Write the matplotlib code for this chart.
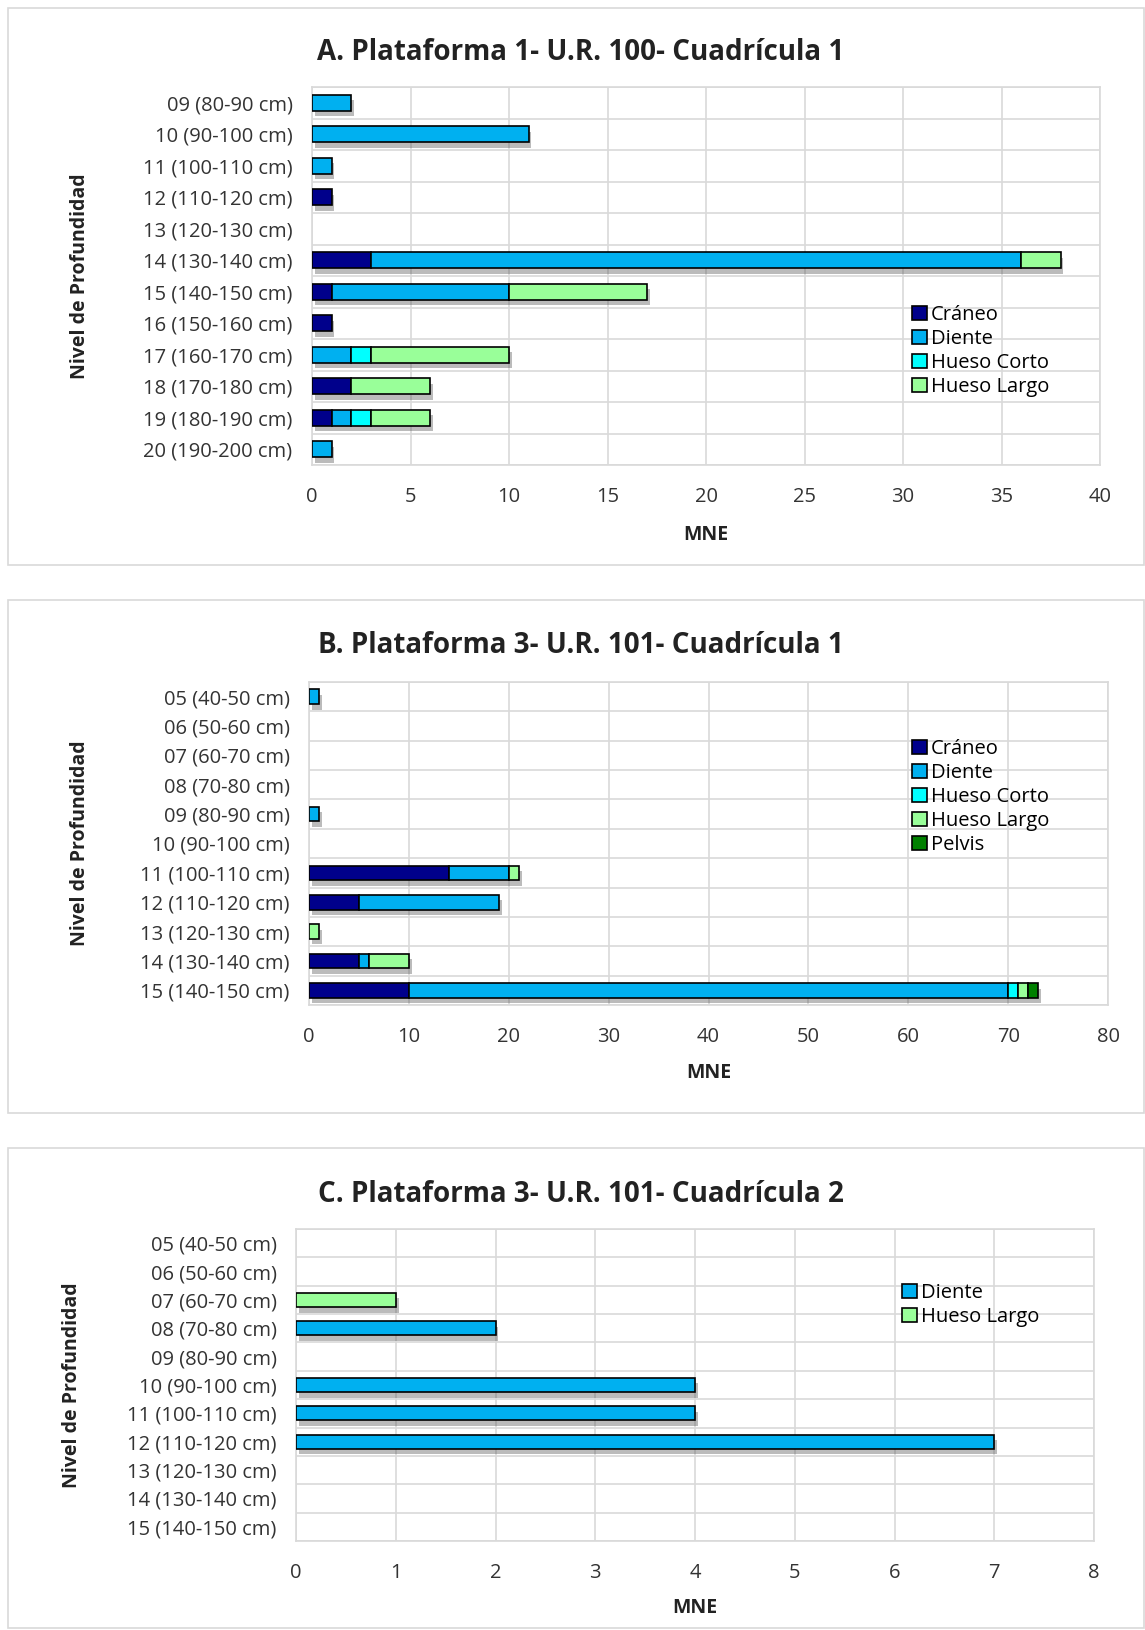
import matplotlib
matplotlib.use('Agg')
import matplotlib.pyplot as plt
import matplotlib.patheffects as pe
from matplotlib.patches import Rectangle, Patch
import numpy as np

plt.rcParams['font.family'] = ['Open Sans', 'DejaVu Sans']

# colores de cada tipo de hueso
colores = {'Cráneo': '#00008B', 'Diente': '#00B0F0', 'Hueso Corto': '#00FFFF',
           'Hueso Largo': '#99FF99', 'Pelvis': '#008000'}

# Panel A
niveles_a = ['09 (80-90 cm)', '10 (90-100 cm)', '11 (100-110 cm)', '12 (110-120 cm)',
             '13 (120-130 cm)', '14 (130-140 cm)', '15 (140-150 cm)', '16 (150-160 cm)',
             '17 (160-170 cm)', '18 (170-180 cm)', '19 (180-190 cm)', '20 (190-200 cm)']
craneo_a = [0, 0, 0, 1, 0, 3, 1, 1, 0, 2, 1, 0]
diente_a = [2, 11, 1, 0, 0, 33, 9, 0, 2, 0, 1, 1]
corto_a = [0, 0, 0, 0, 0, 0, 0, 0, 1, 0, 1, 0]
largo_a = [0, 0, 0, 0, 0, 2, 7, 0, 7, 4, 3, 0]

# Panel B
niveles_b = ['05 (40-50 cm)', '06 (50-60 cm)', '07 (60-70 cm)', '08 (70-80 cm)',
             '09 (80-90 cm)', '10 (90-100 cm)', '11 (100-110 cm)', '12 (110-120 cm)',
             '13 (120-130 cm)', '14 (130-140 cm)', '15 (140-150 cm)']
craneo_b = [0, 0, 0, 0, 0, 0, 14, 5, 0, 5, 10]
diente_b = [1, 0, 0, 0, 1, 0, 6, 14, 0, 1, 60]
corto_b = [0, 0, 0, 0, 0, 0, 0, 0, 0, 0, 1]
largo_b = [0, 0, 0, 0, 0, 0, 1, 0, 1, 4, 1]
pelvis_b = [0, 0, 0, 0, 0, 0, 0, 0, 0, 0, 1]

# Panel C
niveles_c = niveles_b
diente_c = [0, 0, 0, 2, 0, 4, 4, 7, 0, 0, 0]
largo_c = [0, 0, 1, 0, 0, 0, 0, 0, 0, 0, 0]

W, H = 1145, 1630
fig = plt.figure(figsize=(W / 100, H / 100), dpi=100)


def fx(x):
    return x / W


def fy(y):
    return 1 - y / H


def caja(y0, y1):
    fig.patches.append(Rectangle((fx(8), fy(y1)), fx(1136), (y1 - y0) / H,
                                 transform=fig.transFigure, fill=False,
                                 edgecolor='#D9D9D9', lw=1.2))


def panel(box, niveles, series, xmax, titulo, titulo_y, leyenda_xy, ylab_x, mne_y):
    x0, y0, x1, y1 = box
    ax = fig.add_axes([fx(x0), fy(y1), (x1 - x0) / W, (y1 - y0) / H])
    pos = np.arange(len(niveles))
    izq = np.zeros(len(niveles))
    sombra = [pe.SimplePatchShadow(offset=(2, -4), shadow_rgbFace='#555555', alpha=0.4),
              pe.Normal()]
    for nombre, valores in series:
        valores = np.array(valores, dtype=float)
        m = valores > 0
        ax.barh(pos[m], valores[m], left=izq[m], height=0.5, color=colores[nombre],
                edgecolor='black', lw=1.2, zorder=3, path_effects=sombra)
        izq += valores
    ax.set_xlim(0, xmax)
    ax.set_ylim(len(niveles) - 0.5, -0.5)
    ax.set_yticks(pos)
    ax.set_yticklabels(niveles)
    ax.set_yticks(np.arange(len(niveles) + 1) - 0.5, minor=True)
    ax.tick_params(axis='both', length=0, labelsize=14.5, colors='#333333')
    ax.tick_params(axis='y', which='minor', length=0)
    ax.tick_params(axis='x', pad=16)
    ax.tick_params(axis='y', pad=14)
    ax.grid(True, axis='x', color='#D9D9D9', lw=1.2, zorder=0)
    ax.grid(True, axis='y', which='minor', color='#D9D9D9', lw=1.2, zorder=0)
    for s in ax.spines.values():
        s.set_color('#D9D9D9')
        s.set_linewidth(1.2)
    fig.text(fx(581), fy(titulo_y), titulo, ha='center', va='center',
             fontsize=20, fontweight='bold', color='#222222')
    fig.text(fx(ylab_x), fy((y0 + y1) / 2), 'Nivel de Profundidad', rotation=90,
             ha='center', va='center', fontsize=14, fontweight='bold', color='#222222')
    fig.text(fx((x0 + x1) / 2), fy(mne_y), 'MNE', ha='center', va='center',
             fontsize=14, fontweight='bold', color='#222222')
    handles = [Patch(facecolor=colores[n], edgecolor='black', lw=1.2) for n, _ in series]
    fig.legend(handles, [n for n, _ in series], loc='upper left',
               bbox_to_anchor=(fx(leyenda_xy[0]), fy(leyenda_xy[1])), frameon=False,
               fontsize=14.5, handlelength=0.75, handleheight=0.75, handletextpad=0.2,
               labelspacing=0.2, borderaxespad=0, borderpad=0)
    return ax


caja(8, 565)
caja(600, 1113)
caja(1148, 1628)

panel((312, 87, 1100, 465), niveles_a,
      [('Cráneo', craneo_a), ('Diente', diente_a), ('Hueso Corto', corto_a),
       ('Hueso Largo', largo_a)],
      40, 'A. Plataforma 1- U.R. 100- Cuadrícula 1', 52, (912, 305), 80, 535)

panel((309, 682, 1108, 1005), niveles_b,
      [('Cráneo', craneo_b), ('Diente', diente_b), ('Hueso Corto', corto_b),
       ('Hueso Largo', largo_b), ('Pelvis', pelvis_b)],
      80, 'B. Plataforma 3- U.R. 101- Cuadrícula 1', 646, (912, 739), 80, 1073)

panel((296, 1229, 1094, 1541), niveles_c,
      [('Diente', diente_c), ('Hueso Largo', largo_c)],
      8, 'C. Plataforma 3- U.R. 101- Cuadrícula 2', 1194, (902, 1283), 72, 1608)

fig.savefig('out.png', dpi=100)
